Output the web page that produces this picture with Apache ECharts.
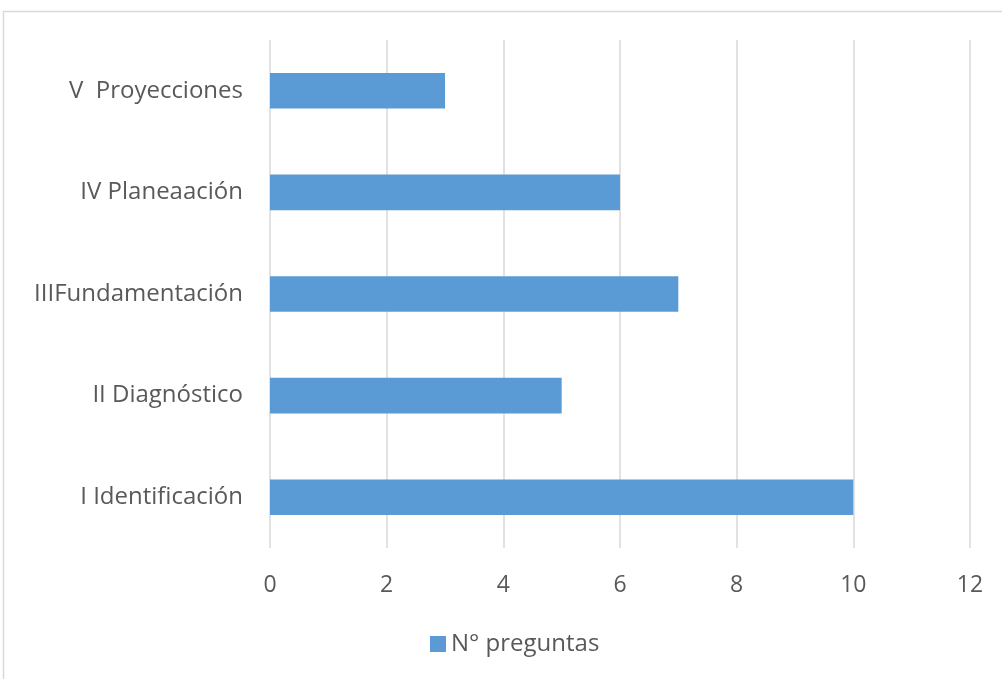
<!DOCTYPE html>
<html>
<head>
<meta charset="utf-8">
<title>N° preguntas</title>
<script src="https://cdn.jsdelivr.net/npm/echarts@6/dist/echarts.min.js"></script>
<style>
    html, body { margin: 0; padding: 0; background: #fff; }
    #chart { width: 1002px; height: 679px; }
</style>
</head>
<body>
<div id="chart"></div>
<script>
    // datos (de abajo hacia arriba)
    var categorias = ['I Identificación', 'II Diagnóstico', 'IIIFundamentación', 'IV Planeaación', 'V  Proyecciones'];
    var preguntas = [10, 5, 7, 6, 3];
    var ticksX = [0, 2, 4, 6, 8, 10, 12];

    var fuente = '"Open Sans", "Noto Sans", sans-serif';
    var myChart = echarts.init(document.getElementById('chart'));

    var option = {
        animation: false,
        textStyle: { fontFamily: fuente },
        graphic: [{
            type: 'rect',
            shape: { x: 3.5, y: 11.5, width: 1010, height: 700 },
            style: { fill: 'none', stroke: '#d9d9d9', lineWidth: 1.5 },
            silent: true
        }],
        legend: {
            bottom: 18,
            left: 425,
            itemWidth: 16,
            itemHeight: 16,
            itemGap: 8,
            icon: 'rect',
            textStyle: { fontSize: 24, color: '#595959', fontFamily: fuente },
            data: ['N° preguntas']
        },
        grid: { left: 270, right: 32, top: 40, bottom: 131, containLabel: false },
        xAxis: {
            type: 'value',
            min: ticksX[0],
            max: ticksX[ticksX.length - 1],
            interval: 2,
            axisLine: { show: false },
            axisTick: { show: false },
            axisLabel: { fontSize: 23, color: '#595959', margin: 26, fontFamily: fuente },
            splitLine: { lineStyle: { color: '#d9d9d9', width: 1.5 } }
        },
        yAxis: {
            type: 'category',
            data: categorias,
            axisLine: { show: false },
            axisTick: { show: false },
            axisLabel: { fontSize: 24, color: '#595959', margin: 27, fontFamily: fuente }
        },
        series: [{
            name: 'N° preguntas',
            type: 'bar',
            data: preguntas,
            barWidth: '35%',
            itemStyle: { color: '#5b9bd5' }
        }]
    };

    myChart.setOption(option);
</script>
</body>
</html>
